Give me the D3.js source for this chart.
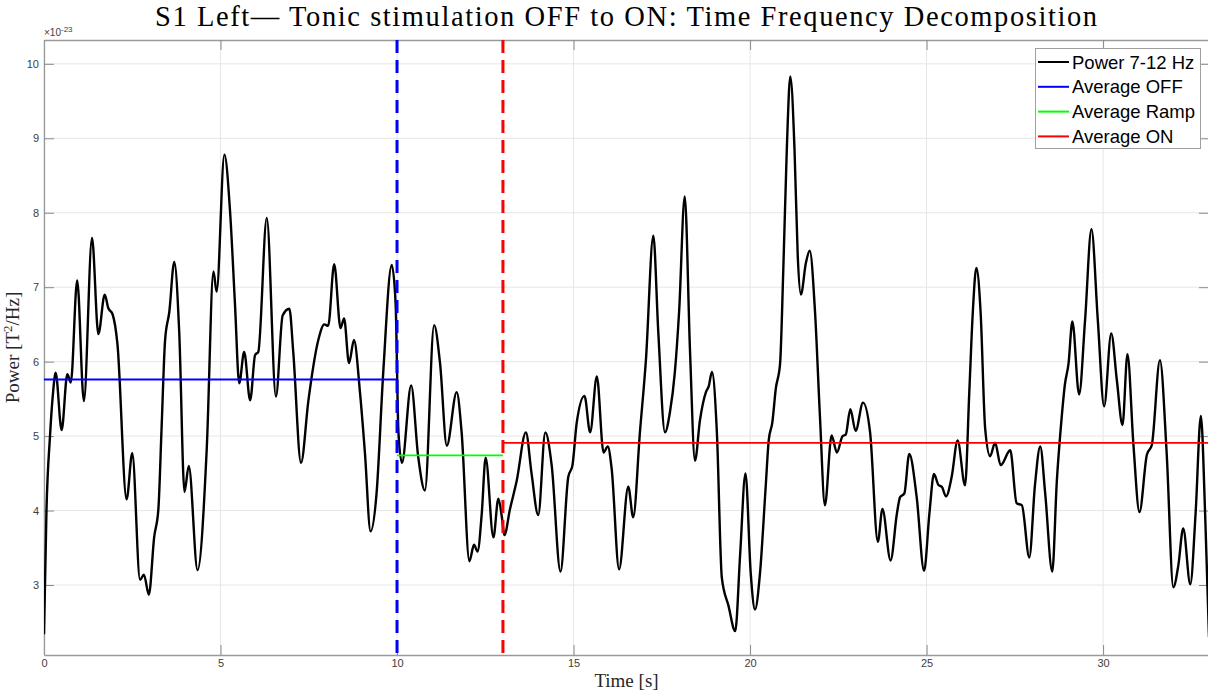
<!DOCTYPE html>
<html><head><meta charset="utf-8">
<script src="https://cdn.jsdelivr.net/npm/d3@7"></script>
<style>html,body{margin:0;padding:0;background:#fff;overflow:hidden}</style>
</head><body>
<svg id="chart" width="1208" height="693"></svg>
<script>
// ---- data ----
const time = [0,0.07,0.17,0.25,0.33,0.50,0.66,0.76,0.94,1.13,1.36,1.54,1.72,1.82,1.94,2.08,2.34,2.50,2.72,2.83,2.97,3.12,3.24,3.33,3.43,3.55,3.69,3.83,3.98,4.10,4.35,
4.61,4.80,4.89,5.11,5.27,5.41,5.53,5.67,5.84,5.98,6.07,6.31,6.57,6.76,6.95,7.06,7.28,7.49,7.77,7.94,8.05,8.22,
8.40,8.50,8.64,8.78,8.95,9.09,9.25,9.42,9.61,9.85,9.96,10.04,10.14,10.40,10.60,10.79,11.05,11.22,11.41,11.69,11.83,12.05,12.18,12.28,
12.40,12.51,12.73,12.87,12.97,13.04,13.20,13.39,13.65,13.81,14.00,14.20,14.38,14.63,14.85,14.97,15.09,15.31,15.47,15.66,15.85,15.97,16.08,16.29,
16.55,16.69,16.88,17.05,17.26,17.40,17.59,17.73,17.87,17.99,18.15,18.30,18.44,18.58,18.75,18.83,18.92,19.06,19.20,19.39,19.58,19.72,19.87,20.02,20.14,20.28,20.44,
20.53,20.63,20.73,20.85,20.94,21.04,21.14,21.26,21.35,21.44,21.58,21.69,21.84,21.98,22.12,22.31,22.46,22.62,22.71,22.84,22.99,23.20,23.40,23.62,23.75,23.98,24.16,24.25,24.37,24.51,
24.72,24.93,25.08,25.21,25.34,25.43,25.55,25.71,25.88,26.09,26.21,26.31,26.41,26.53,26.66,26.80,26.94,27.10,27.37,27.55,27.70,27.91,28.07,28.22,28.36,28.56,
28.69,28.80,28.92,29.02,29.13,29.32,29.49,29.67,29.85,30.03,30.23,30.39,30.55,30.69,30.86,31.03,31.24,31.38,31.61,31.80,31.99,32.13,32.27,32.47,32.62,32.77,32.89,33.0];
const power = [2.34,4.0,5.0,5.55,5.85,5.08,5.83,5.72,7.09,5.47,7.66,6.37,6.90,6.72,6.64,6.24,4.15,4.77,3.07,3.14,2.87,3.64,4.02,5.1,6.29,6.67,7.34,6.40,4.25,4.60,3.20,
4.83,7.21,6.94,8.78,8.02,6.77,5.71,6.13,5.48,6.09,6.13,7.93,5.53,6.62,6.71,6.13,4.64,5.48,6.29,6.50,6.48,7.31,
6.45,6.58,5.98,6.29,5.59,4.78,3.72,4.23,5.86,7.30,6.78,5.05,4.64,5.68,4.72,4.27,6.49,5.97,4.87,5.59,5.05,3.32,3.54,3.45,
3.96,4.71,3.64,4.16,3.91,3.67,4.02,4.40,5.05,4.50,3.94,5.05,4.61,3.18,4.45,4.61,5.18,5.54,5.05,5.80,4.78,4.86,4.56,3.21,
4.32,3.91,5.05,6.02,7.69,6.40,5.05,5.32,5.86,6.67,8.22,6.13,4.67,5.21,5.59,5.67,5.86,5.05,3.10,2.72,2.38,3.42,4.50,3.15,2.67,3.15,4.3,
4.95,5.18,5.64,5.97,7.21,8.84,9.83,8.84,7.43,6.90,7.32,7.49,6.67,5.26,4.07,5.01,4.78,5.00,5.02,5.36,5.07,5.45,5.05,3.58,4.02,3.33,3.96,4.18,4.23,4.76,
4.18,3.19,3.96,4.49,4.34,4.32,4.19,4.45,4.94,4.34,5.59,6.67,7.26,6.67,5.10,4.73,4.91,4.61,4.81,4.10,4.07,3.37,4.34,4.86,4.23,3.18,
4.4,5.1,5.70,5.97,6.54,5.56,6.56,7.78,6.56,5.40,6.38,5.75,5.15,6.10,4.88,3.98,4.75,4.88,6.02,4.78,2.97,3.26,3.76,3.01,3.96,5.27,3.96,2.3];

const xTicks = [0,5,10,15,20,25,30];
const yTicks = [3,4,5,6,7,8,9,10];
const avgOff = 5.76, avgRamp = 4.74, avgOn = 4.91;
const tOff = 10, tOn = 13, tEnd = 33;
const legendItems = ["Power 7-12 Hz","Average OFF","Average Ramp","Average ON"];
const legendColors = ["#000000","#0000ff","#00ff00","#ff0000"];

// ---- layout ----
const L = 44, R = 1209, T = 40, B = 655;
const svg = d3.select("#chart");
const x = d3.scaleLinear().domain([0, 33]).range([L, R]);
const y = d3.scaleLinear().domain([2.06, 10.32]).range([B, T]);

svg.append("defs").append("clipPath").attr("id","clip")
  .append("rect").attr("x",L).attr("y",T).attr("width",R-L).attr("height",B-T);

// grid
const grid = svg.append("g");
grid.selectAll(".gx").data(xTicks).join("line")
  .attr("x1",d=>x(d)).attr("x2",d=>x(d)).attr("y1",T).attr("y2",B)
  .attr("stroke","#e6e6e6").attr("stroke-width",1);
grid.selectAll(".gy").data(yTicks).join("line")
  .attr("x1",L).attr("x2",R).attr("y1",d=>y(d)).attr("y2",d=>y(d))
  .attr("stroke","#e6e6e6").attr("stroke-width",1);

// axes (inside ticks)
const tickLen = 10;
const axB = svg.append("g").attr("transform",`translate(0,${B})`)
  .call(d3.axisBottom(x).tickValues(xTicks).tickSizeInner(-tickLen).tickSizeOuter(0).tickPadding(4).tickFormat(d3.format("d")));
const axT = svg.append("g").attr("transform",`translate(0,${T})`)
  .call(d3.axisTop(x).tickValues(xTicks).tickSizeInner(-tickLen).tickSizeOuter(0).tickFormat(""));
const axL = svg.append("g").attr("transform",`translate(${L},0)`)
  .call(d3.axisLeft(y).tickValues(yTicks).tickSizeInner(-tickLen).tickSizeOuter(0).tickPadding(5).tickFormat(d3.format("d")));
const axR = svg.append("g").attr("transform",`translate(${R},0)`)
  .call(d3.axisRight(y).tickValues(yTicks).tickSizeInner(-tickLen).tickSizeOuter(0).tickFormat(""));
[axB,axT,axL,axR].forEach(a=>{
  a.select(".domain").attr("stroke","#9a9a9a").attr("stroke-width",1.3);
  a.selectAll(".tick line").attr("stroke","#8a8a8a").attr("stroke-width",1);
  a.selectAll(".tick text").attr("fill","#404040").attr("font-family","Liberation Sans, Arial, sans-serif").attr("font-size","11px");
});

// exponent label
const ex = svg.append("text").attr("x",L).attr("y",36).attr("fill","#404040")
  .attr("font-family","Liberation Sans, Arial, sans-serif").attr("font-size","10px");
ex.append("tspan").text("\u00d710");
ex.append("tspan").attr("dy",-4).attr("font-size","8px").text("-23");

// plot content
const plot = svg.append("g").attr("clip-path","url(#clip)");
const pts = time.map((t,i)=>[t,power[i]]);
plot.append("path").datum(pts)
  .attr("d", d3.line().x(d=>x(d[0])).y(d=>y(d[1])).curve(d3.curveMonotoneX))
  .attr("fill","none").attr("stroke","#000").attr("stroke-width",2.4).attr("stroke-linejoin","round");

const avgs = [
  {x0:0, x1:tOff, v:avgOff, c:"#0000ff"},
  {x0:tOff, x1:tOn, v:avgRamp, c:"#00ff00"},
  {x0:tOn, x1:tEnd, v:avgOn, c:"#ff0000"}];
plot.selectAll(".avg").data(avgs).join("line")
  .attr("x1",d=>x(d.x0)).attr("x2",d=>x(d.x1)).attr("y1",d=>y(d.v)).attr("y2",d=>y(d.v))
  .attr("stroke",d=>d.c).attr("stroke-width",1.8);

const vlines = [{t:tOff,c:"#0000ff"},{t:tOn,c:"#ff0000"}];
plot.selectAll(".vl").data(vlines).join("line")
  .attr("x1",d=>x(d.t)).attr("x2",d=>x(d.t)).attr("y1",T).attr("y2",B)
  .attr("stroke",d=>d.c).attr("stroke-width",3).attr("stroke-dasharray","13,7");

// legend
const lg = svg.append("g");
lg.append("rect").attr("x",1035.5).attr("y",48.5).attr("width",165).attr("height",100)
  .attr("fill","#fff").attr("stroke","#a0a0a0").attr("stroke-width",1);
legendItems.forEach((s,i)=>{
  const cy = 62 + i*24.8;
  lg.append("line").attr("x1",1038).attr("x2",1069).attr("y1",cy).attr("y2",cy)
    .attr("stroke",legendColors[i]).attr("stroke-width",2);
  lg.append("text").attr("x",1072).attr("y",cy+6.5).attr("fill","#000")
    .attr("font-family","Liberation Sans, Arial, sans-serif").attr("font-size","18.5px").text(s);
});

// title & labels
svg.append("text").attr("x",(L+R)/2 - 0.5).attr("y",26).attr("text-anchor","middle")
  .attr("font-family","Liberation Serif, Times New Roman, serif").attr("font-size","28.5px")
  .attr("textLength",942).attr("lengthAdjust","spacing").attr("fill","#000")
  .text("S1 Left\u2014 Tonic stimulation OFF to ON: Time Frequency Decomposition");

svg.append("text").attr("x",(L+R)/2).attr("y",687).attr("text-anchor","middle")
  .attr("font-family","Liberation Serif, Times New Roman, serif").attr("font-size","19px").attr("fill","#262626")
  .text("Time [s]");

const yl = svg.append("text").attr("transform",`translate(19,${(T+B)/2}) rotate(-90)`).attr("text-anchor","middle")
  .attr("font-family","Liberation Serif, Times New Roman, serif").attr("font-size","19px").attr("fill","#262626");
yl.append("tspan").text("Power [T");
yl.append("tspan").attr("dy",-7).attr("font-size","13px").text("2");
yl.append("tspan").attr("dy",7).text("/Hz]");
</script>
</body></html>
